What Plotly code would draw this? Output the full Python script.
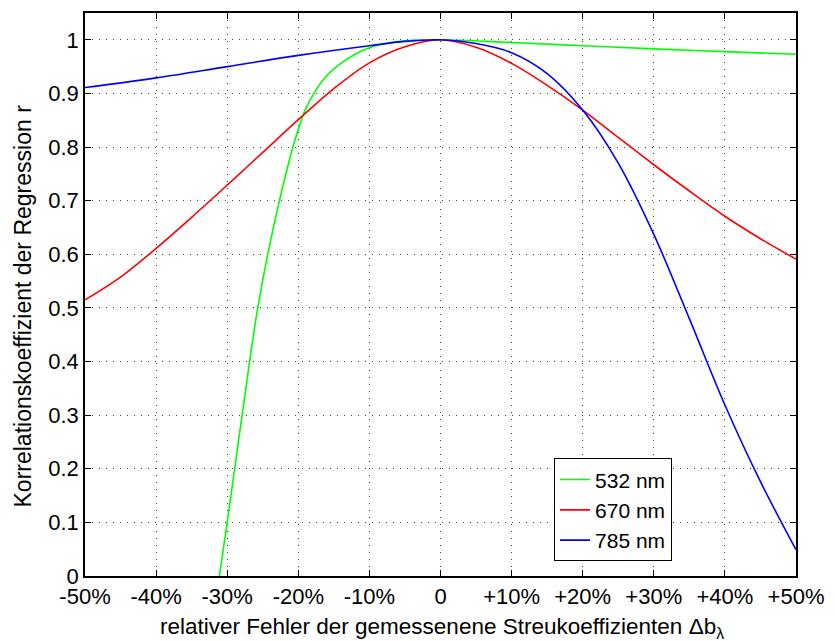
import plotly.graph_objects as go

# Data
x_532 = [-31.1, -30.0, -28.95, -27.9, -26.85, -25.7, -24.3, -22.65, -20.75, -19.1, -17.8, -16.2, -14.2, -12.0, -10.0, -7.0, -4.0, 0.0, 10.0, 20.0, 30.0, 40.0, 50.0]
y_532 = [0.0, 0.10, 0.20, 0.30, 0.40, 0.50, 0.60, 0.70, 0.80, 0.867, 0.900, 0.930, 0.954, 0.973, 0.985, 0.995, 0.999, 1.0, 0.995, 0.989, 0.983, 0.978, 0.973]

x_670 = [-50, -45, -40, -35, -30, -25, -20, -15, -10, -5, 0, 5, 10, 15, 20, 25, 30, 35, 40, 45, 50]
y_670 = [0.515, 0.5575, 0.611, 0.669, 0.729, 0.790, 0.851, 0.909, 0.957, 0.987, 1.0, 0.986, 0.956, 0.915, 0.869, 0.818, 0.767, 0.718, 0.671, 0.629, 0.591]

x_785 = [-50, -40, -30, -20, -10, -5, 0, 5, 10, 15, 20, 25, 30, 35, 40, 45, 50]
y_785 = [0.911, 0.929, 0.950, 0.971, 0.989, 0.997, 1.0, 0.993, 0.976, 0.937, 0.869, 0.770, 0.637, 0.480, 0.319, 0.176, 0.049]

x_tickvals = [-50, -40, -30, -20, -10, 0, 10, 20, 30, 40, 50]
x_ticktext = ["-50%", "-40%", "-30%", "-20%", "-10%", "0", "+10%", "+20%", "+30%", "+40%", "+50%"]
y_tickvals = [0, 0.1, 0.2, 0.3, 0.4, 0.5, 0.6, 0.7, 0.8, 0.9, 1.0]
y_ticktext = ["0", "0.1", "0.2", "0.3", "0.4", "0.5", "0.6", "0.7", "0.8", "0.9", "1"]

series = [
    ("532 nm", x_532, y_532, "#00ff00"),
    ("670 nm", x_670, y_670, "#ff0000"),
    ("785 nm", x_785, y_785, "#0000ff"),
]

fig = go.Figure()
for name, xs, ys, col in series:
    fig.add_trace(go.Scatter(x=xs, y=ys, mode="lines", name=name,
                             line=dict(color=col, width=1.6, shape="spline", smoothing=1.0)))

FONT = "Liberation Sans, Arial, sans-serif"
L, R, T, B = 85, 33, 11, 65
W, H = 835, 641
pw, ph = W - L - R, H - T - B

fig.update_layout(
    width=W, height=H,
    margin=dict(l=L, r=R, t=T, b=B),
    paper_bgcolor="white", plot_bgcolor="white",
    font=dict(family=FONT, size=22, color="black"),
    showlegend=True,
    legend=dict(x=(558 - L) / pw, y=(H - B - 458) / ph, xanchor="left", yanchor="top",
                bgcolor="white", bordercolor="black", borderwidth=1,
                font=dict(size=21), tracegroupgap=0, itemwidth=30),
)
grid_dash = "1px,6px"
fig.update_xaxes(
    range=[-50, 50], tickvals=x_tickvals, ticktext=x_ticktext,
    ticks="inside", ticklen=6, tickcolor="black", mirror="ticks",
    showline=True, linecolor="black", linewidth=1.5,
    showgrid=True, gridcolor="#444444", griddash=grid_dash, gridwidth=1,
    zeroline=False, tickfont=dict(size=22),
)
fig.update_yaxes(
    range=[0, 1.05], tickvals=y_tickvals, ticktext=y_ticktext,
    ticks="inside", ticklen=6, tickcolor="black", mirror="ticks",
    showline=True, linecolor="black", linewidth=1.5,
    showgrid=True, gridcolor="#444444", griddash=grid_dash, gridwidth=1,
    zeroline=False, tickfont=dict(size=22),
)

# Axis titles placed as annotations to match the reference positions
fig.add_annotation(
    text="relativer Fehler der gemessenene Streukoeffizienten Δb<sub>λ</sub>",
    xref="paper", yref="paper", x=(445.5 - L) / pw, y=(H - B - 628) / ph,
    xanchor="center", yanchor="middle", showarrow=False, font=dict(size=22.5),
)
fig.add_annotation(
    text="Korrelationskoeffizient der Regression r",
    xref="paper", yref="paper", x=(22 - L) / pw, y=(H - B - 305) / ph,
    xanchor="center", yanchor="middle", textangle=-90, showarrow=False, font=dict(size=23),
)

fig.write_html("out.html")
